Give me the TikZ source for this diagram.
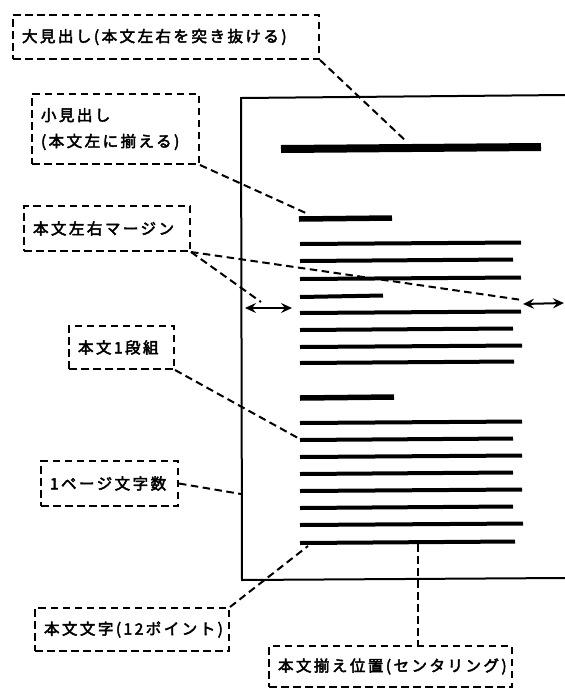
\documentclass[tikz,border=0pt]{standalone}
\usepackage{fontspec}
\newfontfamily\jp[FakeBold=3,LetterSpace=16]{Noto Sans CJK JP}
\usetikzlibrary{arrows.meta}
\begin{document}
\begin{tikzpicture}[x=1pt,y=-1pt,
  lbox/.style={draw, line width=2pt, dash pattern=on 7.5pt off 4.5pt, anchor=north west,
    inner xsep=9pt, inner ysep=0pt, align=left, font=\jp\fontsize{15.5}{26}\selectfont},
  conn/.style={line width=2pt, dash pattern=on 7.5pt off 4.5pt},
  bar/.style={line width=4pt},
  pageedge/.style={line width=2pt},
  marg/.style={line width=2pt, {Stealth[length=11pt,width=10pt,inset=4pt]}-{Stealth[length=11pt,width=10pt,inset=4pt]}}]
\useasboundingbox (0,0) rectangle (565,689);
\fill[white] (0,0) rectangle (565,689);
% page
\draw[pageedge] (565,95) -- (241,98) -- (242,580) -- (565,578);
% bars
\draw[line width=8pt] (281,149) -- (541,147);
\draw[line width=5.5pt] (299,219) -- (392,218);
\foreach \y/\r in {244/521,261/513,279/521,297/383,313/521,330/513,347/522,363/514}
  \draw[bar] (300,\y) -- (\r,\y-1.5);
\draw[line width=5.5pt] (300,398) -- (394,397);
\foreach \y/\r in {423/522,440/513,457/522,474/513,491/522,508/513,525/523,543/515}
  \draw[bar] (300,\y) -- (\r,\y-1.5);
% connector ends
\coordinate (c1) at (407,142);
\coordinate (c2) at (308,214);
\coordinate (c3l) at (261,302);
\coordinate (c3r) at (522,300);
\coordinate (c4) at (298,438);
\coordinate (c5) at (241,494);
\coordinate (c6) at (308,546);
\coordinate (c7) at (418,544);
% margin arrows
\coordinate (al1) at (245,308);
\coordinate (al2) at (292,308);
\coordinate (ar1) at (523,304);
\coordinate (ar2) at (564,303);
\draw[marg] (al1) -- (al2);
\draw[marg] (ar1) -- (ar2);
% labels
\node[lbox, text width=288pt, minimum height=44pt] (b1) at (12,14) {大見出し(本文左右を突き抜ける)};
\node[lbox, text width=149pt, minimum height=70pt] (b2) at (31,93) {小見出し\\(本文左に揃える)};
\node[lbox, text width=148pt, minimum height=45pt] (b3) at (23,205) {本文左右マージン};
\node[lbox, text width=87pt, minimum height=43pt] (b4) at (68,325) {本文1段組};
\node[lbox, text width=119pt, minimum height=45pt] (b5) at (40,460) {1ページ文字数};
\node[lbox, text width=176pt, minimum height=43pt] (b6) at (34,607) {本文文字(12ポイント)};
\node[lbox, text width=225pt, minimum height=41pt] (b7) at (268,645) {本文揃え位置(センタリング)};
% connectors
\draw[conn] (b1.south east) -- (c1);
\draw[conn] (b2.south east) -- (c2);
\draw[conn] (b3.south east) -- (c3l);
\draw[conn] (b3.south east) -- (c3r);
\draw[conn] (b4.south east) -- (c4);
\draw[conn] (b5.east) -- (c5);
\draw[conn] (b6.north east) -- (c6);
\draw[conn] (c7) -- (c7 |- b7.north);
\end{tikzpicture}
\end{document}
